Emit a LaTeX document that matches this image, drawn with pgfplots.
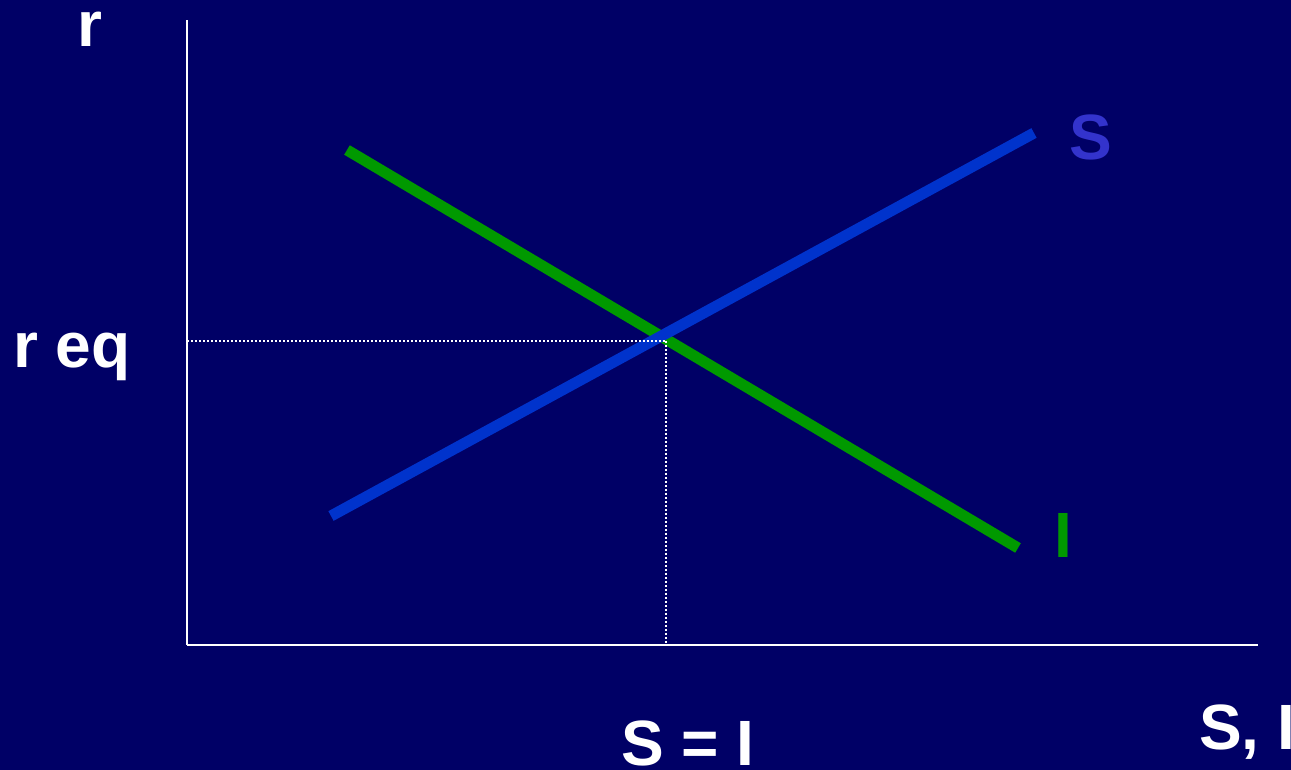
\documentclass[border=0pt]{standalone}
\usepackage{pgfplots}
\pgfplotsset{compat=1.18}
\usepackage{fontspec}
\setmainfont{Liberation Sans}
\definecolor{bg}{RGB}{0,0,102}
\definecolor{sblue}{RGB}{0,51,204}
\definecolor{slabel}{RGB}{51,51,204}
\definecolor{igreen}{RGB}{0,153,0}
\begin{document}
\begin{tikzpicture}[x=1pt,y=1pt]
\fill[bg] (0,0) rectangle (1291,770);
\begin{axis}[
  at={(187pt,125pt)}, anchor=south west,
  scale only axis, width=1071pt, height=625pt,
  xmin=187, xmax=1258, ymin=125, ymax=750,
  axis x line=bottom, axis y line=left,
  axis line style={white, line width=2pt, -},
  xtick=\empty, ytick=\empty,
  clip=false,
]
\addplot[igreen, line width=11pt] coordinates {(347,620) (1018,222)};
\addplot[sblue, line width=11pt] coordinates {(331,254) (1034,637)};
\addplot[white, line width=1.5pt, dash pattern=on 2pt off 2pt] coordinates {(187,429) (666,429)};
\addplot[white, line width=1.5pt, dash pattern=on 2pt off 2pt] coordinates {(666,429) (666,125)};
\end{axis}
\begin{scope}[every node/.style={font=\bfseries\fontsize{64}{70}\selectfont, inner sep=0pt}]
\node[white, anchor=base] at (90,723) {r};
\node[white, anchor=base] at (72,402) {r eq};
\node[slabel, anchor=base] at (1091,610) {S};
\node[igreen, anchor=base] at (1063,212) {I};
\node[white, anchor=base] at (688,4) {S = I};
\node[white, anchor=base west] at (1199,20) {S, I};
\end{scope}
\pgfresetboundingbox
\path[use as bounding box] (0,0) rectangle (1291,770);
\end{tikzpicture}
\end{document}
